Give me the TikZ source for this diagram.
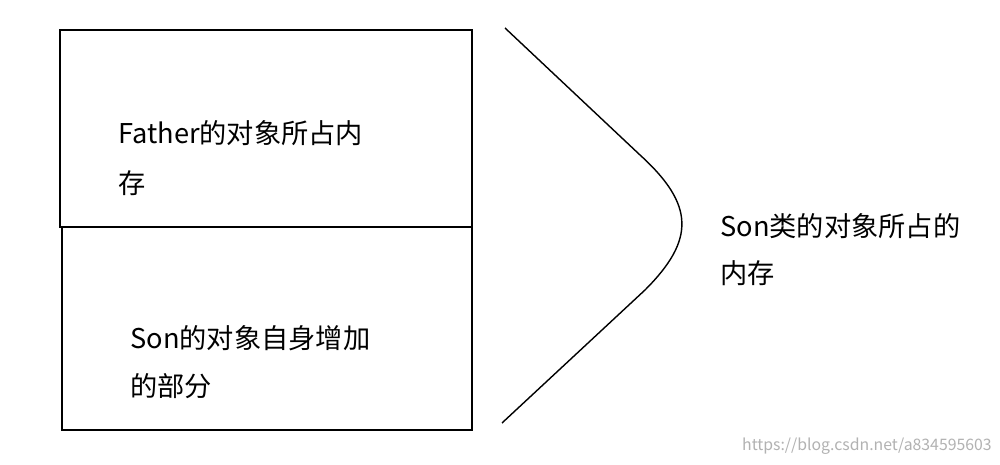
\documentclass[tikz,border=0pt]{standalone}
\usepackage{fontspec}
\setmainfont{Noto Sans CJK SC}
\begin{document}
\begin{tikzpicture}[x=0.02cm,y=-0.02cm,
  lbl/.style={anchor=west,inner sep=0pt,font=\fontsize{15.5pt}{18pt}\selectfont},
  box/.style={draw,line width=0.8pt}]
\useasboundingbox (0,0) rectangle (1000,465);
\fill[white] (0,0) rectangle (1000,465);
\draw[box] (60,30) rectangle (472,227);
\draw[box] (62,227) rectangle (472,430);
\coordinate (c1) at (505,28);
\coordinate (c2) at (640,155);
\coordinate (c3) at (645,290);
\coordinate (c4) at (502,423);
\draw[line width=0.8pt] (c1) -- (c2) .. controls (695,205) and (695,240) .. (c3) -- (c4);
\node[lbl] (f1) at (118,133) {Father的对象所占内};
\node[lbl] (f2) at (118,183) {存};
\node[lbl] (s1) at (130,338) {Son的对象自身增加};
\node[lbl] (s2) at (130,386) {的部分};
\node[lbl] (r1) at (720,226) {Son类的对象所占的};
\node[lbl] (r2) at (720,273) {内存};
\node[anchor=east,inner sep=0pt,text=gray!60,font=\fontsize{9pt}{11pt}\selectfont] (w) at (992,446) {https://blog.csdn.net/a834595603};
\end{tikzpicture}
\end{document}
